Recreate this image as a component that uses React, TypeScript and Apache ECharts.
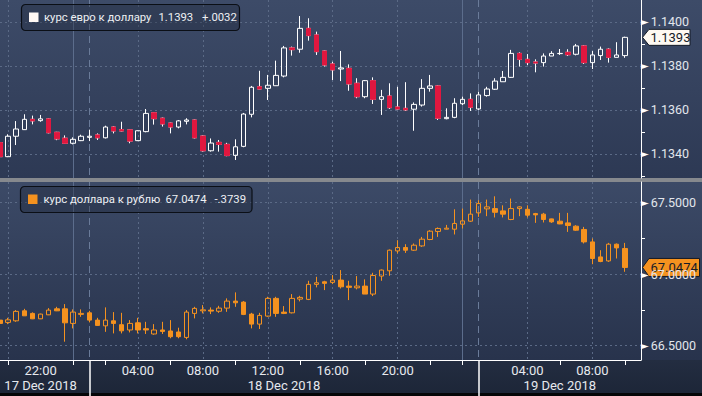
import React, { useEffect, useRef } from "react";
import * as echarts from "echarts";

// 30-minute slots, 17 Dec 2018 19:30 -> 19 Dec 2018 11:00
const categories = [
  "17/12 19:30", "17/12 20:00", "17/12 20:30", "17/12 21:00", "17/12 21:30", "17/12 22:00", "17/12 22:30", "17/12 23:00", "17/12 23:30",
  "18/12 00:00", "18/12 00:30", "18/12 01:00", "18/12 01:30", "18/12 02:00", "18/12 02:30", "18/12 03:00", "18/12 03:30",
  "18/12 04:00", "18/12 04:30", "18/12 05:00", "18/12 05:30", "18/12 06:00", "18/12 06:30", "18/12 07:00", "18/12 07:30",
  "18/12 08:00", "18/12 08:30", "18/12 09:00", "18/12 09:30", "18/12 10:00", "18/12 10:30", "18/12 11:00", "18/12 11:30",
  "18/12 12:00", "18/12 12:30", "18/12 13:00", "18/12 13:30", "18/12 14:00", "18/12 14:30", "18/12 15:00", "18/12 15:30",
  "18/12 16:00", "18/12 16:30", "18/12 17:00", "18/12 17:30", "18/12 18:00", "18/12 18:30", "18/12 19:00", "18/12 19:30",
  "18/12 20:00", "18/12 20:30", "18/12 21:00", "18/12 21:30", "18/12 22:00", "18/12 22:30", "18/12 23:00", "18/12 23:30",
  "19/12 00:00", "19/12 00:30", "19/12 01:00", "19/12 01:30", "19/12 02:00", "19/12 02:30", "19/12 03:00", "19/12 03:30",
  "19/12 04:00", "19/12 04:30", "19/12 05:00", "19/12 05:30", "19/12 06:00", "19/12 06:30", "19/12 07:00", "19/12 07:30",
  "19/12 08:00", "19/12 08:30", "19/12 09:00", "19/12 09:30", "19/12 10:00", "19/12 10:30", "19/12 11:00",
];

// EUR/USD [open, close, low, high]
const eurUsd = [
  [1.13451, 1.13387, 1.1336, 1.13455], [1.13387, 1.1348, 1.13385, 1.13489], [1.1348, 1.13513, 1.1344, 1.13549],
  [1.1351, 1.13557, 1.1351, 1.1358], [1.13557, 1.1355, 1.13534, 1.13574], [1.13551, 1.13559, 1.13546, 1.13577],
  [1.13559, 1.13496, 1.13493, 1.13562], [1.13498, 1.13468, 1.13462, 1.135], [1.13471, 1.13448, 1.13445, 1.13484],
  [1.13448, 1.13466, 1.13443, 1.13475], [1.1346, 1.1348, 1.13458, 1.13487], [1.13475, 1.1348, 1.13458, 1.1351],
  [1.13486, 1.13473, 1.13463, 1.13493], [1.13473, 1.13522, 1.1347, 1.13528], [1.13522, 1.13504, 1.13493, 1.13525],
  [1.1351, 1.13504, 1.13502, 1.13546], [1.13509, 1.13458, 1.13448, 1.1351], [1.1346, 1.13505, 1.13458, 1.13507],
  [1.13501, 1.13584, 1.13498, 1.13604], [1.13587, 1.1356, 1.13533, 1.1359], [1.13562, 1.13536, 1.13524, 1.13565],
  [1.1354, 1.13522, 1.13493, 1.13542], [1.13522, 1.1355, 1.13516, 1.13554], [1.13548, 1.13554, 1.13534, 1.13562],
  [1.13554, 1.13473, 1.1347, 1.13556], [1.13481, 1.13414, 1.1341, 1.13484], [1.13414, 1.13449, 1.1341, 1.1347],
  [1.13452, 1.13443, 1.1341, 1.13463], [1.13443, 1.13392, 1.13389, 1.1345], [1.13393, 1.13432, 1.13372, 1.13466],
  [1.13434, 1.13581, 1.1343, 1.13586], [1.1358, 1.13703, 1.13566, 1.13709], [1.13705, 1.13695, 1.13694, 1.13778],
  [1.13698, 1.13712, 1.13645, 1.13759], [1.1371, 1.13757, 1.1371, 1.13824], [1.13754, 1.13882, 1.13748, 1.13891],
  [1.13882, 1.13874, 1.13847, 1.13888], [1.13876, 1.13971, 1.1386, 1.14027], [1.13971, 1.13938, 1.13915, 1.14017],
  [1.13941, 1.13865, 1.1385, 1.13956], [1.13868, 1.13804, 1.13797, 1.1387], [1.13809, 1.13782, 1.13736, 1.13819],
  [1.13786, 1.13791, 1.13731, 1.13868], [1.13789, 1.13718, 1.13687, 1.13807], [1.13721, 1.1366, 1.13653, 1.13744],
  [1.1366, 1.13733, 1.13653, 1.13736], [1.13733, 1.13648, 1.13627, 1.13748], [1.13648, 1.1366, 1.13577, 1.13691],
  [1.13663, 1.1361, 1.13604, 1.13721], [1.13613, 1.13604, 1.13602, 1.13705], [1.13607, 1.136, 1.13595, 1.13726],
  [1.13603, 1.13625, 1.13505, 1.13634], [1.13622, 1.13698, 1.13615, 1.1374], [1.13698, 1.13709, 1.13683, 1.13759],
  [1.13709, 1.13562, 1.13554, 1.13712], [1.1356, 1.13566, 1.13557, 1.13607], [1.13566, 1.1363, 1.13562, 1.13653],
  [1.13628, 1.13648, 1.13622, 1.1366], [1.13648, 1.13612, 1.13595, 1.13675], [1.13604, 1.13668, 1.136, 1.13683],
  [1.13665, 1.13695, 1.1366, 1.13705], [1.13694, 1.13731, 1.13691, 1.13744], [1.13728, 1.13748, 1.13728, 1.13777],
  [1.13748, 1.13857, 1.13746, 1.13873], [1.13857, 1.1383, 1.13797, 1.13862], [1.1383, 1.13815, 1.13804, 1.13854],
  [1.13818, 1.13813, 1.13771, 1.1383], [1.13815, 1.13845, 1.13797, 1.13857], [1.13845, 1.13857, 1.13845, 1.13867],
  [1.13856, 1.13857, 1.1385, 1.13877], [1.13862, 1.13851, 1.13845, 1.13876], [1.13853, 1.13891, 1.13848, 1.139],
  [1.13891, 1.13815, 1.13809, 1.13895], [1.13815, 1.1385, 1.13786, 1.13868], [1.13847, 1.13876, 1.13827, 1.13888],
  [1.13876, 1.13839, 1.13815, 1.1388], [1.13839, 1.1385, 1.13839, 1.13908], [1.13847, 1.1393, 1.13837, 1.13933],
];

// USD/RUB [open, close, low, high]
const usdRub = [
  [66.679, 66.656, 66.65, 66.693], [66.663, 66.681, 66.651, 66.695], [66.674, 66.74, 66.667, 66.749],
  [66.744, 66.709, 66.709, 66.758], [66.726, 66.688, 66.686, 66.733], [66.688, 66.721, 66.686, 66.724],
  [66.716, 66.749, 66.714, 66.763], [66.758, 66.744, 66.742, 66.772], [66.758, 66.66, 66.528, 66.791],
  [66.656, 66.735, 66.621, 66.754], [66.719, 66.726, 66.702, 66.754], [66.73, 66.679, 66.663, 66.744],
  [66.679, 66.642, 66.639, 66.695], [66.639, 66.679, 66.597, 66.768], [66.674, 66.656, 66.586, 66.735],
  [66.647, 66.604, 66.586, 66.73], [66.61, 66.656, 66.593, 66.679], [66.66, 66.61, 66.586, 66.695],
  [66.619, 66.61, 66.582, 66.667], [66.582, 66.61, 66.577, 66.651], [66.61, 66.6, 66.582, 66.667],
  [66.603, 66.563, 66.552, 66.679], [66.596, 66.563, 66.552, 66.626], [66.558, 66.735, 66.545, 66.749],
  [66.726, 66.761, 66.691, 66.772], [66.744, 66.751, 66.726, 66.784], [66.749, 66.742, 66.721, 66.768],
  [66.741, 66.763, 66.73, 66.779], [66.763, 66.812, 66.737, 66.831], [66.812, 66.8, 66.772, 66.873],
  [66.805, 66.719, 66.714, 66.812], [66.721, 66.651, 66.621, 66.73], [66.651, 66.712, 66.617, 66.73],
  [66.707, 66.831, 66.702, 66.842], [66.831, 66.726, 66.702, 66.842], [66.735, 66.726, 66.721, 66.777],
  [66.73, 66.831, 66.726, 66.861], [66.826, 66.838, 66.81, 66.849], [66.824, 66.929, 66.819, 66.954],
  [66.929, 66.94, 66.908, 66.982], [66.947, 66.936, 66.889, 66.954], [66.943, 66.959, 66.931, 66.994],
  [66.959, 66.912, 66.9, 67.029], [66.917, 66.908, 66.819, 66.954], [66.905, 66.917, 66.894, 66.987],
  [66.917, 66.861, 66.861, 66.964], [66.861, 66.991, 66.847, 67.01], [66.987, 67.029, 66.954, 67.033],
  [67.024, 67.168, 66.989, 67.173], [67.163, 67.187, 67.145, 67.238], [67.187, 67.168, 67.149, 67.21],
  [67.168, 67.203, 67.163, 67.215], [67.198, 67.245, 67.191, 67.261], [67.243, 67.301, 67.238, 67.308],
  [67.299, 67.32, 67.261, 67.327], [67.315, 67.322, 67.315, 67.345], [67.315, 67.355, 67.278, 67.454],
  [67.35, 67.373, 67.32, 67.459], [67.371, 67.42, 67.366, 67.522], [67.429, 67.494, 67.401, 67.517],
  [67.457, 67.471, 67.406, 67.522], [67.459, 67.433, 67.397, 67.545], [67.443, 67.42, 67.397, 67.482],
  [67.383, 67.459, 67.378, 67.529], [67.459, 67.471, 67.406, 67.475], [67.454, 67.413, 67.397, 67.482],
  [67.424, 67.415, 67.359, 67.429], [67.42, 67.383, 67.362, 67.429], [67.387, 67.366, 67.359, 67.389],
  [67.371, 67.352, 67.35, 67.429], [67.359, 67.341, 67.296, 67.429], [67.336, 67.308, 67.303, 67.343],
  [67.313, 67.226, 67.215, 67.331], [67.226, 67.11, 67.07, 67.25], [67.121, 67.089, 67.084, 67.168],
  [67.093, 67.21, 67.086, 67.219], [67.21, 67.184, 67.11, 67.215], [67.18, 67.0474, 67.017, 67.219],
];

const timeLabels: [string, string][] = [
  ["17/12 22:00", "22:00"], ["18/12 04:00", "04:00"], ["18/12 08:00", "08:00"], ["18/12 12:00", "12:00"],
  ["18/12 16:00", "16:00"], ["18/12 20:00", "20:00"], ["19/12 04:00", "04:00"], ["19/12 08:00", "08:00"],
];
const dateLabels: [string, string][] = [
  ["17/12 22:00", "17 Dec 2018"], ["18/12 13:00", "18 Dec 2018"], ["19/12 06:00", "19 Dec 2018"],
];
const tickKeys = [
  "17/12 20:00", "18/12 00:00", "18/12 02:00", "18/12 06:00", "18/12 10:00", "18/12 14:00",
  "18/12 18:00", "18/12 22:00", "19/12 00:00", "19/12 06:00", "19/12 10:00",
];
const gridKeys = [
  "17/12 20:00", "18/12 04:00", "18/12 08:00", "18/12 12:00", "18/12 16:00", "18/12 20:00", "19/12 04:00", "19/12 08:00",
];
const midnightKeys = ["18/12 00:00", "19/12 00:00"];
const dayBreakKeys = ["18/12 01:00", "19/12 01:00"];

const legendTop = ["курс евро к доллару", "1.1393", "+.0032"];
const legendBottom = ["курс доллара к рублю", "67.0474", "-.3739"];

const RED = "#e0173f";
const ORANGE = "#f5921f";
const WHITE = "#ffffff";
const FONT = "Roboto";
const GRID_DOT = "#5b6a86";

export default function App() {
  const ref = useRef<HTMLDivElement>(null);

  useEffect(() => {
    if (!ref.current) return;
    const chart = echarts.init(ref.current, undefined, { renderer: "svg", width: 702, height: 396 });
    const timeMap = new Map(timeLabels);
    const dateMap = new Map(dateLabels);
    const tickSet = new Set(tickKeys);
    const gridSet = new Set(gridKeys);
    const midSet = new Set(midnightKeys);
    const breakSet = new Set(dayBreakKeys);

    const hiddenX = (gridIndex: number) => ({
      type: "category",
      gridIndex,
      position: "bottom",
      data: categories,
      boundaryGap: false,
      min: 0,
      max: categories.length - 1,
      axisLine: { show: false },
      axisTick: { show: false },
      axisLabel: { show: false },
      splitLine: { show: false },
    });
    const splitAt = (set: Set<string>, style: any) => ({
      show: true,
      interval: (_i: number, v: string) => set.has(v),
      lineStyle: style,
    });
    const dotted = { color: GRID_DOT, type: [2, 3], width: 1 };
    const solid = { color: "#5c6d8c", type: "solid", width: 1 };
    const dashed = { color: "#6a7b99", type: [7, 5], width: 1 };

    const yLabel = (digits: number) => ({
      showMinLabel: false,
      showMaxLabel: false,
      margin: 0,
      formatter: (v: number) => `{a|►}{b|${v.toFixed(digits)}}`,
      rich: {
        a: { fontSize: 10, color: WHITE, fontFamily: "DejaVu Sans", padding: [0, 2, 0, 0] },
        b: { fontSize: 12.5, color: "#e2e6ec", fontFamily: FONT },
      },
    });
    const yBase = (gridIndex: number, min: number, max: number, splitNumber: number, digits: number) => ({
      type: "value",
      gridIndex,
      position: "right",
      min,
      max,
      splitNumber,
      axisLine: { show: true, lineStyle: { color: WHITE, width: 1 } },
      axisTick: { show: false },
      minorTick: { show: true, splitNumber: 2, length: 4, lineStyle: { color: WHITE, width: 1 } },
      splitLine: { show: true, showMinLine: false, showMaxLine: false, lineStyle: dotted },
      minorSplitLine: { show: false },
      axisLabel: yLabel(digits),
    });

    const option: any = {
      animation: false,
      backgroundColor: "transparent",
      grid: [
        { left: 0, top: 0, width: 641, height: 178, containLabel: false, outerBoundsMode: "none" },
        { left: 0, top: 182, width: 641, height: 178, containLabel: false, outerBoundsMode: "none" },
      ],
      xAxis: [
        { ...hiddenX(0), splitLine: splitAt(gridSet, dotted) },
        { ...hiddenX(0), splitLine: splitAt(midSet, solid) },
        { ...hiddenX(0), splitLine: splitAt(breakSet, dashed) },
        {
          ...hiddenX(1),
          axisLine: { show: true, lineStyle: { color: WHITE, width: 1 } },
          axisTick: { show: true, length: 5, interval: (_i: number, v: string) => tickSet.has(v), lineStyle: { color: WHITE } },
          axisLabel: {
            show: true,
            interval: (_i: number, v: string) => timeMap.has(v),
            formatter: (v: string) => timeMap.get(v) || "",
            margin: 4,
            color: "#e6e9ee",
            fontSize: 13,
            fontFamily: FONT,
          },
          splitLine: splitAt(gridSet, dotted),
        },
        { ...hiddenX(1), splitLine: splitAt(midSet, solid) },
        {
          ...hiddenX(1),
          axisTick: { show: true, length: 36, interval: (_i: number, v: string) => breakSet.has(v), lineStyle: { color: WHITE, width: 1.5 } },
          axisLabel: {
            show: true,
            interval: (_i: number, v: string) => dateMap.has(v),
            formatter: (v: string) => dateMap.get(v) || "",
            margin: 19,
            color: "#e6e9ee",
            fontSize: 13,
            fontFamily: FONT,
          },
          splitLine: splitAt(breakSet, dashed),
        },
      ],
      yAxis: [yBase(0, 1.1329, 1.141, 4, 4), yBase(1, 66.4, 67.645, 3, 4)],
      series: [
        {
          type: "candlestick",
          xAxisIndex: 0,
          yAxisIndex: 0,
          data: eurUsd,
          barWidth: 5,
          itemStyle: { color: "transparent", color0: RED, borderColor: WHITE, borderColor0: WHITE, borderWidth: 1 },
        },
        {
          type: "candlestick",
          xAxisIndex: 0,
          yAxisIndex: 0,
          data: eurUsd.map(([o, c]) => [o, c, Math.min(o, c), Math.max(o, c)]),
          barWidth: 5,
          itemStyle: { color: "transparent", color0: RED, borderColor: "transparent", borderColor0: RED, borderWidth: 1 },
        },
        {
          type: "candlestick",
          xAxisIndex: 3,
          yAxisIndex: 1,
          data: usdRub,
          barWidth: 5,
          itemStyle: { color: "transparent", color0: ORANGE, borderColor: ORANGE, borderColor0: ORANGE, borderWidth: 1 },
        },
      ],
    };
    chart.setOption(option);

    const lastEur = eurUsd[eurUsd.length - 1][1];
    const lastRub = usdRub[usdRub.length - 1][1];
    const yTop = chart.convertToPixel({ yAxisIndex: 0 } as any, lastEur) as number;
    const yBot = chart.convertToPixel({ yAxisIndex: 1 } as any, lastRub) as number;

    const legend = (x: number, y: number, w: number, marker: string, texts: string[], offs: number[]) => ({
      type: "group",
      x,
      y,
      z: 50,
      children: [
        { type: "rect", shape: { x: 0, y: 0, width: w, height: 26, r: 4 }, style: { fill: "rgba(28,36,54,0.35)", stroke: "#0b0f16", lineWidth: 1.2 } },
        { type: "rect", shape: { x: 7.5, y: 8, width: 9.5, height: 9.5 }, style: { fill: marker } },
        ...texts.map((t, i) => ({
          type: "text",
          x: offs[i],
          y: 13,
          style: { text: t, fill: "#eef0f3", fontSize: 11.3, fontFamily: FONT, verticalAlign: "middle", align: "left" },
        })),
      ],
    });

    const tag = (y: number, w: number, h: number, fill: string, text: string) => ({
      type: "group",
      x: 641,
      y,
      z: 60,
      children: [
        {
          type: "polygon",
          shape: { points: [[1.5, 0], [8, -h / 2], [w, -h / 2], [w, h / 2], [8, h / 2]] },
          style: { fill, stroke: "#141a26", lineWidth: 1 },
        },
        {
          type: "text",
          x: 9.5,
          y: 0.5,
          style: { text, fill: "#171c28", fontSize: 13, fontFamily: FONT, verticalAlign: "middle", align: "left" },
        },
      ],
    });

    chart.setOption({
      graphic: [
        legend(21.5, 4.5, 218, "#fff8f4", legendTop, [22.5, 137, 180.5]),
        legend(20.5, 186.5, 231.5, ORANGE, legendBottom, [23, 145, 194]),
        tag(yTop, 49, 16, "#fef9f2", lastEur.toFixed(4)),
        tag(yBot, 58.5, 18, ORANGE, lastRub.toFixed(4)),
      ],
    });

    return () => chart.dispose();
  }, []);

  return (
    <div
      ref={ref}
      style={{
        position: "fixed",
        left: 0,
        top: 0,
        width: 702,
        height: 396,
        background:
          "linear-gradient(180deg, #3d4b68 0px, #2d3954 178px, #86898e 178px, #86898e 182px, #3c4a67 182px, #28334c 360px, #232d41 360px, #1d2638 393px, #050608 393px, #050608 396px)",
      }}
    />
  );
}
